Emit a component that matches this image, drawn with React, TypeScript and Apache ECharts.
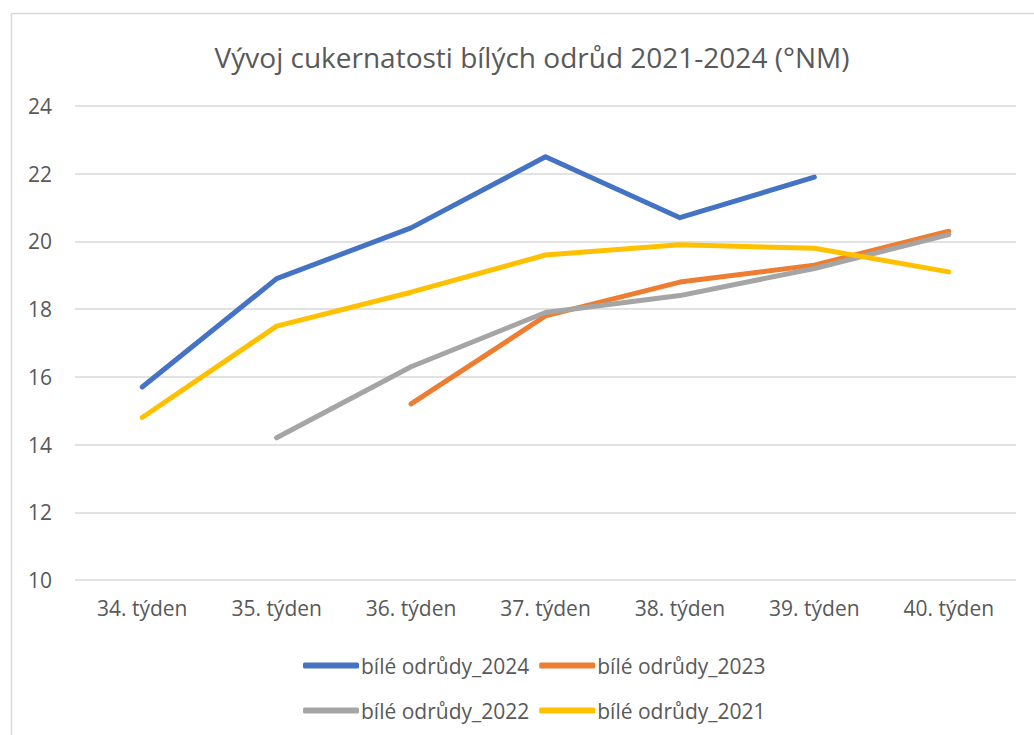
import React, { useEffect, useRef } from "react";
import * as echarts from "echarts";

const categories = ["34. týden", "35. týden", "36. týden", "37. týden", "38. týden", "39. týden", "40. týden"];
const seriesNames = ["bílé odrůdy_2024", "bílé odrůdy_2023", "bílé odrůdy_2022", "bílé odrůdy_2021"];
const values2024 = [15.7, 18.9, 20.4, 22.5, 20.7, 21.9, null];
const values2023 = [null, null, 15.2, 17.8, 18.8, 19.3, 20.3];
const values2022 = [null, 14.2, 16.3, 17.9, 18.4, 19.2, 20.2];
const values2021 = [14.8, 17.5, 18.5, 19.6, 19.9, 19.8, 19.1];
const colors = ["#4472C4", "#ED7D31", "#A5A5A5", "#FFC000"];

const FONT = "'Open Sans', 'Noto Sans', sans-serif";
const TEXT = "#595959";

export default function App() {
  const ref = useRef<HTMLDivElement>(null);
  useEffect(() => {
    document.body.style.margin = "0";
    const chart = echarts.init(ref.current!, null, { renderer: "svg" });
    const allValues = [values2024, values2023, values2022, values2021];
    const legendCommon = {
      left: 298,
      itemWidth: 56,
      itemHeight: 6,
      itemGap: 10,
      icon: "roundRect",
      textStyle: { color: TEXT, fontSize: 21, fontFamily: FONT, padding: [0, 0, 0, -3] },
    };
    chart.setOption({
      animation: false,
      backgroundColor: "#fff",
      title: {
        text: "Vývoj cukernatosti bílých odrůd 2021-2024 (°NM)",
        left: 527,
        textAlign: "center",
        top: 38,
        textStyle: { color: TEXT, fontSize: 28, fontWeight: "normal", fontFamily: FONT },
      },
      graphic: [
        {
          type: "rect",
          shape: { x: 11.5, y: 13.5, width: 1100, height: 800 },
          style: { fill: "none", stroke: "#d9d9d9", lineWidth: 1.5 },
          silent: true,
        },
      ],
      legend: [
        { ...legendCommon, top: 650, data: [seriesNames[0], seriesNames[1]] },
        { ...legendCommon, top: 695, data: [seriesNames[2], seriesNames[3]] },
      ],
      grid: { left: 75, right: 18, top: 106, bottom: 155 },
      xAxis: {
        type: "category",
        data: categories,
        boundaryGap: true,
        axisLine: { show: false },
        axisTick: { show: false },
        axisLabel: { color: TEXT, fontSize: 21, fontFamily: FONT, margin: 17 },
      },
      yAxis: {
        type: "value",
        min: 10,
        max: 24,
        interval: 2,
        axisLine: { show: false },
        axisTick: { show: false },
        axisLabel: { color: TEXT, fontSize: 21, fontFamily: FONT, margin: 23 },
        splitLine: { lineStyle: { color: "#d9d9d9", width: 1.5 } },
      },
      series: seriesNames.map((name, i) => ({
        name,
        type: "line",
        data: allValues[i],
        showSymbol: false,
        symbol: "none",
        color: colors[i],
        lineStyle: { width: 5, color: colors[i], cap: "round", join: "round" },
      })),
    });
    return () => chart.dispose();
  }, []);
  return <div ref={ref} style={{ width: 1034, height: 735 }} />;
}
